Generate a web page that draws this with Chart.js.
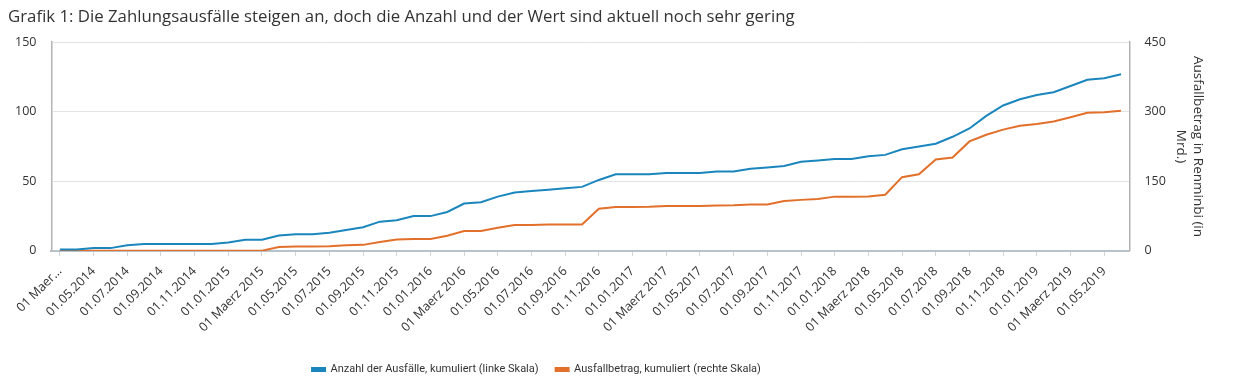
<!DOCTYPE html>
<html>
<head>
<meta charset="utf-8">
<script src="https://cdn.jsdelivr.net/npm/chart.js@4.4.0/dist/chart.umd.min.js"></script>
<style>
  html, body { margin: 0; padding: 0; background: #fff; }
  #wrap { width: 1234px; height: 388px; }
</style>
</head>
<body>
<div id="wrap"><canvas id="chart"></canvas></div>
<script>
// monthly, Mar 2014 - Jun 2019
var months = [
  "01 Maerz 2014", "01.04.2014", "01.05.2014", "01.06.2014", "01.07.2014", "01.08.2014", "01.09.2014", "01.10.2014", "01.11.2014", "01.12.2014",
  "01.01.2015", "01.02.2015", "01 Maerz 2015", "01.04.2015", "01.05.2015", "01.06.2015", "01.07.2015", "01.08.2015", "01.09.2015", "01.10.2015", "01.11.2015", "01.12.2015",
  "01.01.2016", "01.02.2016", "01 Maerz 2016", "01.04.2016", "01.05.2016", "01.06.2016", "01.07.2016", "01.08.2016", "01.09.2016", "01.10.2016", "01.11.2016", "01.12.2016",
  "01.01.2017", "01.02.2017", "01 Maerz 2017", "01.04.2017", "01.05.2017", "01.06.2017", "01.07.2017", "01.08.2017", "01.09.2017", "01.10.2017", "01.11.2017", "01.12.2017",
  "01.01.2018", "01.02.2018", "01 Maerz 2018", "01.04.2018", "01.05.2018", "01.06.2018", "01.07.2018", "01.08.2018", "01.09.2018", "01.10.2018", "01.11.2018", "01.12.2018",
  "01.01.2019", "01.02.2019", "01 Maerz 2019", "01.04.2019", "01.05.2019", "01.06.2019"
];

// Anzahl der Ausfaelle, kumuliert (linke Skala)
var anzahl = [
  1, 1, 2, 2, 4, 5, 5, 5, 5, 5,
  6, 8, 8, 11, 12, 12, 13, 15, 17, 21, 22, 25,
  25, 28, 34, 35, 39, 42, 43, 44, 45, 46, 51, 55,
  55, 55, 56, 56, 56, 57, 57, 59, 60, 61, 64, 65,
  66, 66, 68, 69, 73, 75, 77, 82, 88, 97, 104.5, 109,
  112, 114, 118.5, 123, 124, 127
];

// Ausfallbetrag, kumuliert in Mrd. Renminbi (rechte Skala)
var betrag = [
  0.5, 0.5, 0.5, 0.5, 0.5, 0.5, 0.5, 0.5, 0.5, 0.5,
  0.5, 0.5, 0.5, 8.5, 9.5, 9.5, 10, 12, 13, 19, 24.5, 25.5,
  25.5, 32.5, 43, 43, 50, 56, 56, 57, 57, 57, 91, 94.5,
  94.5, 95, 97, 97, 97, 98, 98.5, 100, 100, 107.5, 110, 112,
  117, 117, 117.5, 121, 159, 165, 197, 201.5, 236, 250.5, 261.5, 270,
  273.5, 279, 288, 298, 299, 302
];

var leftTicks = [0, 50, 100, 150];
var rightTicks = [0, 150, 300, 450];

var txt = "#333333";
var fontFam = "'Open Sans', sans-serif";

// title starts a bit in from the edge, legend sits left of centre in the original
var boxShift = {
  id: "boxShift",
  afterLayout: function (chart) {
    chart.titleBlock.left += 8;
    chart.titleBlock.right += 8;
    chart.legend.left -= 67;
    chart.legend.right -= 67;
  }
};

var ctx = document.getElementById("chart");

var chart = new Chart(ctx, {
  type: "line",
  data: {
    labels: months,
    datasets: [
      {
        label: "Anzahl der Ausfälle, kumuliert (linke Skala)",
        data: anzahl,
        yAxisID: "y",
        borderColor: "#1a86bd",
        backgroundColor: "#1a86bd",
        borderWidth: 2,
        pointRadius: 0,
        tension: 0
      },
      {
        label: "Ausfallbetrag, kumuliert (rechte Skala)",
        data: betrag,
        yAxisID: "y2",
        borderColor: "#e2702a",
        backgroundColor: "#e2702a",
        borderWidth: 2,
        pointRadius: 0,
        tension: 0
      }
    ]
  },
  options: {
    responsive: true,
    maintainAspectRatio: false,
    animation: false,
    layout: { padding: { left: 0, right: 27, top: 0, bottom: 3 } },
    plugins: {
      title: {
        display: true,
        align: "start",
        text: "Grafik 1: Die Zahlungsausfälle steigen an, doch die Anzahl und der Wert sind aktuell noch sehr gering",
        color: txt,
        font: { family: fontFam, size: 16.8, weight: "normal" },
        padding: { top: 7, bottom: 15 }
      },
      legend: {
        display: true,
        position: "bottom",
        labels: {
          color: txt,
          font: { family: "Roboto, sans-serif", size: 11 },
          boxWidth: 13,
          boxHeight: 3,
          padding: 17
        }
      },
      tooltip: { enabled: false }
    },
    scales: {
      x: {
        offset: true,
        afterFit: function (axis) {
          axis.height += 4;
        },
        grid: {
          display: true,
          drawOnChartArea: false,
          drawTicks: true,
          tickLength: 5,
          color: "#ccd2d8",
          offset: false
        },
        border: { display: true, color: "#b9c1c9", width: 2 },
        ticks: {
          autoSkip: false,
          maxRotation: 45,
          minRotation: 45,
          padding: 8,
          color: txt,
          font: { family: fontFam, size: 12.5 },
          callback: function (value, index) {
            if (index % 2 !== 0) return null;
            var lab = this.getLabelForValue(value);
            if (index === 0) return "01 Maer...";
            return lab;
          }
        }
      },
      y: {
        position: "left",
        min: 0,
        max: 150,
        afterBuildTicks: function (axis) {
          axis.ticks = leftTicks.map(function (v) { return { value: v }; });
        },
        grid: { color: "#e3e3e3", drawTicks: false },
        border: { display: true, color: "#b3b3b3", width: 1.5 },
        ticks: {
          padding: 15,
          color: txt,
          font: { family: fontFam, size: 12.5 }
        }
      },
      y2: {
        position: "right",
        min: 0,
        max: 450,
        afterBuildTicks: function (axis) {
          axis.ticks = rightTicks.map(function (v) { return { value: v }; });
        },
        afterFit: function (axis) {
          axis.width -= 13;
        },
        grid: { drawOnChartArea: false, drawTicks: false },
        border: { display: true, color: "#b3b3b3", width: 1.5 },
        ticks: {
          padding: 15,
          color: txt,
          font: { family: fontFam, size: 12.5 }
        },
        title: {
          display: true,
          text: ["Ausfallbetrag in Renminbi (in", "Mrd.)"],
          color: txt,
          font: { family: fontFam, size: 13.5, lineHeight: 1.3 },
          padding: { top: 0, bottom: 4 }
        }
      }
    }
  },
  plugins: [boxShift]
});
</script>
</body>
</html>
